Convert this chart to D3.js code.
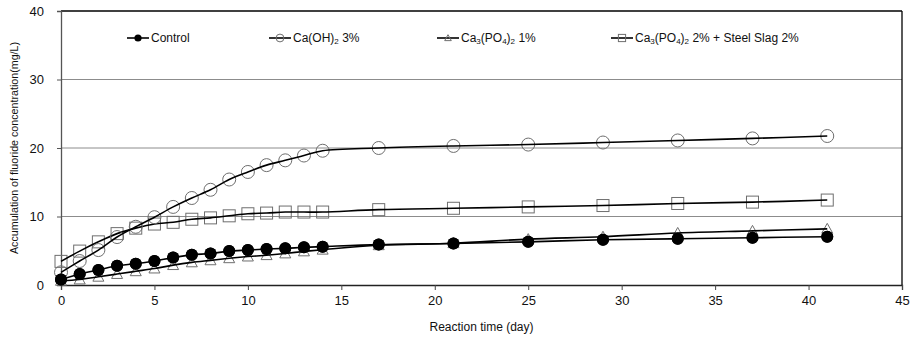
<!DOCTYPE html>
<html>
<head>
<meta charset="utf-8">
<script src="https://cdn.jsdelivr.net/npm/d3@7"></script>
<style>
  body { margin: 0; background: #fff; }
  svg { display: block; font-family: "Liberation Sans", Arial, sans-serif; }
  .tick-label { font-family: "Liberation Sans Narrow", "Liberation Sans", Arial, sans-serif; font-size: 13px; fill: #111; }
  .axis-title { font-size: 12px; fill: #111; }
  .legend-label { font-size: 12px; fill: #111; }
</style>
</head>
<body>
<svg id="chart" width="913" height="339"></svg>
<script>
const DAYS = [0, 1, 2, 3, 4, 5, 6, 7, 8, 9, 10, 11, 12, 13, 14, 17, 21, 25, 29, 33, 37, 41];
const CONTROL = [0.8, 1.6, 2.2, 2.8, 3.1, 3.5, 4.0, 4.4, 4.6, 4.95, 5.1, 5.25, 5.35, 5.5, 5.6, 5.9, 6.05, 6.3, 6.6, 6.75, 6.9, 7.05];
const CAOH = [1.85, 3.5, 5.1, 7.0, 8.5, 9.9, 11.4, 12.7, 13.9, 15.4, 16.5, 17.5, 18.2, 18.9, 19.6, 20.0, 20.3, 20.5, 20.8, 21.1, 21.4, 21.75];
const CAPO1 = [0.6, 0.8, 1.2, 1.6, 2.0, 2.4, 2.9, 3.3, 3.6, 3.9, 4.15, 4.35, 4.6, 4.9, 5.15, 5.8, 6.1, 6.7, 7.05, 7.6, 7.9, 8.2];
const CAPO2_SLAG = [3.45, 4.95, 6.3, 7.5, 8.3, 8.9, 9.15, 9.6, 9.8, 10.1, 10.4, 10.5, 10.65, 10.65, 10.65, 11.0, 11.2, 11.4, 11.6, 11.9, 12.1, 12.4];
const X_TICKS = [0, 5, 10, 15, 20, 25, 30, 35, 40, 45];
const Y_TICKS = [0, 10, 20, 30, 40];

const MARGIN = { top: 11, right: 11, bottom: 54, left: 61 };
const W = 913, H = 339;

const svg = d3.select("#chart");
const innerW = W - MARGIN.left - MARGIN.right;
const innerH = H - MARGIN.top - MARGIN.bottom;

const x = d3.scaleLinear().domain([0, 45]).range([MARGIN.left, MARGIN.left + innerW]);
const y = d3.scaleLinear().domain([0, 40]).range([MARGIN.top + innerH, MARGIN.top]);

// gridlines
svg.append("g").selectAll("line")
  .data(Y_TICKS.filter(v => v > 0 && v < 40))
  .join("line")
  .attr("x1", x(0)).attr("x2", x(45))
  .attr("y1", d => y(d)).attr("y2", d => y(d))
  .attr("stroke", "#8c8c8c").attr("stroke-width", 1);

// frame: top and right black
svg.append("line").attr("x1", x(0)).attr("x2", x(45)).attr("y1", y(40)).attr("y2", y(40))
  .attr("stroke", "#000").attr("stroke-width", 1.3);
svg.append("line").attr("x1", x(45)).attr("x2", x(45)).attr("y1", y(40)).attr("y2", y(0))
  .attr("stroke", "#000").attr("stroke-width", 1.3);

// axes
const xAxis = svg.append("g")
  .attr("transform", `translate(0,${y(0)})`)
  .call(d3.axisBottom(x).tickValues(X_TICKS).tickSize(5).tickPadding(6).tickFormat(d3.format("d")));
xAxis.select(".domain").attr("stroke", "#222").attr("stroke-width", 1.3);
xAxis.selectAll(".tick line").attr("stroke", "#444");
xAxis.selectAll(".tick text").attr("class", "tick-label").attr("font-size", null).attr("font-family", null);

const yAxis = svg.append("g")
  .attr("transform", `translate(${x(0)},0)`)
  .call(d3.axisLeft(y).tickValues(Y_TICKS).tickSize(4).tickPadding(13).tickFormat(d3.format("d")));
yAxis.select(".domain").attr("stroke", "#555").attr("stroke-width", 1.3);
yAxis.selectAll(".tick line").attr("stroke", "#555");
yAxis.selectAll(".tick text").attr("class", "tick-label").attr("font-size", null).attr("font-family", null);

svg.append("text").attr("class", "axis-title")
  .attr("x", x(22.5)).attr("y", 331)
  .attr("text-anchor", "middle")
  .style("font-family", "'Liberation Sans Narrow', 'Liberation Sans', Arial, sans-serif")
  .text("Reaction time (day)");

svg.append("text").attr("class", "axis-title")
  .attr("transform", `translate(18,${(y(0) + y(40)) / 2}) rotate(-90)`)
  .attr("text-anchor", "middle")
  .style("font-size", "10.7px")
  .text("Accumulation of fluoride concentration(mg/L)");

// series
const series = [
  { name: "capo1", values: CAPO1, marker: "triangle" },
  { name: "slag", values: CAPO2_SLAG, marker: "square" },
  { name: "caoh", values: CAOH, marker: "circle" },
  { name: "control", values: CONTROL, marker: "dot" }
];

const line = d3.line()
  .x(d => x(d[0]))
  .y(d => y(d[1]))
  .curve(d3.curveCatmullRom.alpha(0.5));

function drawMarker(g, type, cx, cy, scale) {
  const s = scale || 1;
  if (type === "dot") {
    g.append("circle").attr("cx", cx).attr("cy", cy).attr("r", 6 * s)
      .attr("fill", "#000");
  } else if (type === "circle") {
    g.append("circle").attr("cx", cx).attr("cy", cy).attr("r", 6.5 * s)
      .attr("fill", "none").attr("stroke", "#6e6e6e").attr("stroke-width", 1);
  } else if (type === "square") {
    const h = 6 * s;
    g.append("rect").attr("x", cx - h).attr("y", cy - h).attr("width", 2 * h).attr("height", 2 * h)
      .attr("fill", "none").attr("stroke", "#6e6e6e").attr("stroke-width", 1);
  } else if (type === "triangle") {
    const h = 5.5 * s;
    g.append("path")
      .attr("d", `M${cx},${cy - h}L${cx + h},${cy + h * 0.8}L${cx - h},${cy + h * 0.8}Z`)
      .attr("fill", "none").attr("stroke", "#6e6e6e").attr("stroke-width", 1);
  }
}

series.forEach(s => {
  const pts = DAYS.map((d, i) => [d, s.values[i]]);
  const g = svg.append("g").attr("class", "series-" + s.name);
  pts.forEach(p => drawMarker(g, s.marker, x(p[0]), y(p[1])));
  g.append("path").attr("d", line(pts))
    .attr("fill", "none").attr("stroke", "#000").attr("stroke-width", 1.6);
  if (s.marker === "dot") {
    pts.forEach(p => drawMarker(g, s.marker, x(p[0]), y(p[1])));
  }
});

// legend
const legendItems = [
  { marker: "dot", x: 127, parts: [["Control"]] },
  { marker: "circle", x: 269, parts: [["Ca(OH)"], ["2", "sub"], [" 3%"]] },
  { marker: "triangle", x: 437, parts: [["Ca"], ["3", "sub"], ["(PO"], ["4", "sub"], [")"], ["2", "sub"], [" 1%"]] },
  { marker: "square", x: 611, parts: [["Ca"], ["3", "sub"], ["(PO"], ["4", "sub"], [")"], ["2", "sub"], [" 2% + Steel Slag 2%"]] }
];
const LEG_Y = 37;
const lg = svg.append("g");
legendItems.forEach(item => {
  lg.append("line").attr("x1", item.x).attr("x2", item.x + 22)
    .attr("y1", LEG_Y + 1).attr("y2", LEG_Y + 1)
    .attr("stroke", "#000").attr("stroke-width", 1.6);
  drawMarker(lg, item.marker, item.x + 11, LEG_Y + 1, 0.6);
  const t = lg.append("text").attr("class", "legend-label")
    .attr("x", item.x + 24).attr("y", LEG_Y + 5);
  let inSub = false;
  item.parts.forEach(p => {
    const ts = t.append("tspan").text(p[0]);
    if (p[1] === "sub") {
      ts.attr("font-size", 8);
      if (!inSub) ts.attr("dy", 2);
      inSub = true;
    } else {
      if (inSub) ts.attr("dy", -2);
      inSub = false;
    }
  });
});
</script>
</body>
</html>
